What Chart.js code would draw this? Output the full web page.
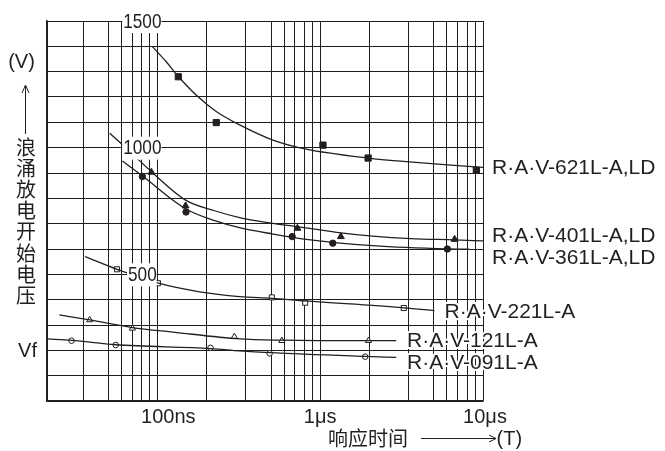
<!DOCTYPE html>
<html><head><meta charset="utf-8">
<script src="https://cdn.jsdelivr.net/npm/chart.js@4.4.1/dist/chart.umd.min.js"></script>
<style>html,body{margin:0;padding:0;background:#fff;}#wrap{width:665px;height:451px;}</style>
</head><body><div id="wrap"><canvas id="c" width="665" height="451"></canvas></div>
<script>
// ---- data (time in ns, voltage in V) ----
const xGridTicks = [21, 35, 50, 60, 70, 80, 90, 100, 200, 350, 500, 600, 700, 800, 900, 1000, 2000, 3500, 5000, 6000, 7000, 8000, 9000, 10000];
const xLabelValues = [100, 1000, 10000];
const xLabelTexts = ['100ns', '1μs', '10μs'];
const yLabelValues = [500, 1000, 1500];

const seriesNames = ['R·A·V-621L-A,LD', 'R·A·V-401L-A,LD', 'R·A·V-361L-A,LD', 'R·A·V-221L-A', 'R·A·V-121L-A', 'R·A·V-091L-A'];

const c621T = [93, 113, 135, 175, 230, 320, 513, 821, 1970, 3370, 10000];
const c621V = [1400, 1340, 1280, 1205, 1143, 1090, 1030, 994, 959, 945, 922];
const p621T = [134.5, 230, 1040, 1970, 9100];
const p621V = [1280, 1099, 1010, 959, 911];

const c401T = [51, 64.5, 92, 150, 225, 320, 513, 725, 1260, 2100, 3600, 6700, 10000];
const c401V = [1057, 998, 905, 792, 751, 724, 701, 688, 666, 651, 641, 636, 632];
const p401T = [91.9, 149, 725, 1340, 6690];
const p401V = [903, 770, 682, 649, 638];

const c361T = [61, 81, 150, 225, 320, 513, 821, 2100, 6040, 8250];
const c361V = [947, 888, 758, 712, 684, 659, 638, 613, 600, 599];
const p361T = [80.9, 150, 673, 1195, 6040];
const p361V = [886, 746, 649, 623, 600];

const c221T = [36, 56.5, 100, 182, 320, 505, 809, 3260, 5030];
const c221V = [570, 520, 466, 431, 412, 405, 395, 368, 357];
const p221T = [56.5, 100.8, 505, 809, 3260];
const p221V = [520, 465, 409, 388, 367];

const c121T = [25, 38.4, 70, 125, 320, 582, 1980, 2930];
const c121V = [340, 320, 290, 272, 245, 240, 238, 238];
const p121T = [38.4, 70.3, 297, 582, 1980];
const p121V = [320, 287, 254, 238, 238];

const c091T = [21, 29.7, 55.5, 212, 320, 489, 1890, 2930];
const c091V = [245, 239, 222, 207, 198, 191, 176, 172];
const p091T = [29.7, 55.5, 212, 489, 1890];
const p091V = [238, 221, 210, 188, 175];

// ---- build ----
const INK = '#231f20';
const zip = (t, v) => t.map((x, i) => ({x: x, y: v[i]}));
function curve(t, v) {
  return {type: 'line', data: zip(t, v), borderColor: INK, borderWidth: 1.3, pointRadius: 0,
    fill: false, cubicInterpolationMode: 'monotone'};
}
function marks(t, v, style, r, filled) {
  return {type: 'scatter', data: zip(t, v), showLine: false, pointStyle: style, pointRadius: r,
    pointBorderColor: INK, pointBorderWidth: 1, pointBackgroundColor: filled ? INK : '#fff'};
}

const datasets = [
  curve(c621T, c621V), marks(p621T, p621V, 'rect', 4.4, true),
  curve(c401T, c401V), marks(p401T, p401V, 'triangle', 4, true),
  curve(c361T, c361V), marks(p361T, p361V, 'circle', 3.2, true),
  curve(c221T, c221V), marks(p221T, p221V, 'rect', 3.6, false),
  curve(c121T, c121V), marks(p121T, p121V, 'triangle', 3.6, false),
  curve(c091T, c091V), marks(p091T, p091V, 'circle', 2.8, false)
];

const labelPos = [
  [492, 174.3], [492, 241.7], [492, 264.3],
  [444.5, 318.3], [407, 346.7], [407, 369]
];

const textPlugin = {
  id: 'texts',
  afterDatasetsDraw(chart) {
    const ctx = chart.ctx, xs = chart.scales.x, ys = chart.scales.y;
    ctx.save();
    ctx.font = '21px "Liberation Sans", Arial, sans-serif';
    ctx.textBaseline = 'middle';
    ctx.textAlign = 'center';
    yLabelValues.forEach(v => {
      const s = String(v);
      const cx = xs.getPixelForValue(100) - 15, cy = ys.getPixelForValue(v);
      const w = ctx.measureText(s).width * 0.82;
      ctx.fillStyle = '#fff';
      ctx.fillRect(cx - w / 2 - 1, cy - 11, w + 1, 23);
      ctx.save();
      ctx.translate(cx, cy + 1);
      ctx.scale(0.82, 1);
      ctx.fillStyle = INK;
      ctx.fillText(s, 0, 0);
      ctx.restore();
    });
    ctx.textBaseline = 'alphabetic';
    ctx.textAlign = 'left';
    seriesNames.forEach((s, i) => {
      const [x, y] = labelPos[i];
      ctx.lineJoin = 'round';
      ctx.strokeStyle = '#fff';
      ctx.lineWidth = 4;
      ctx.strokeText(s, x, y);
      ctx.fillStyle = INK;
      ctx.fillText(s, x, y);
    });
    ctx.restore();
  },
  afterDraw(chart) {
    const ctx = chart.ctx, xs = chart.scales.x;
    ctx.save();
    ctx.fillStyle = INK;
    ctx.strokeStyle = INK;
    ctx.font = '20px "Liberation Sans", Arial, sans-serif';
    ctx.textAlign = 'center';
    ctx.textBaseline = 'alphabetic';
    const offs = [11, 0, 2];
    xLabelValues.forEach((v, i) => {
      ctx.fillText(xLabelTexts[i], xs.getPixelForValue(v) + offs[i], 422.5);
    });
    ctx.textBaseline = 'middle';
    ctx.textAlign = 'left';
    ctx.font = '20px "Noto Sans CJK SC", sans-serif';
    ctx.fillText('响应时间', 328, 438);
    ctx.font = '20px "Liberation Sans", Arial, sans-serif';
    ctx.fillText('(T)', 496.5, 439);
    ctx.lineWidth = 1;
    ctx.beginPath();
    ctx.moveTo(421, 438.5); ctx.lineTo(496, 438.5);
    ctx.moveTo(489, 435); ctx.lineTo(496, 438.5); ctx.lineTo(489, 442);
    ctx.stroke();
    ctx.textAlign = 'center';
    ctx.font = '20px "Liberation Sans", Arial, sans-serif';
    ctx.fillText('(V)', 21.5, 62);
    ctx.fillText('Vf', 27.5, 351);
    ctx.beginPath();
    ctx.moveTo(25.5, 134); ctx.lineTo(25.5, 85);
    ctx.moveTo(22, 93); ctx.lineTo(25.5, 85); ctx.lineTo(29, 93);
    ctx.stroke();
    ctx.font = '20px "Noto Sans CJK SC", sans-serif';
    '浪涌放电开始电压'.split('').forEach((ch, i) => ctx.fillText(ch, 26, 147 + i * 21.2));
    ctx.restore();
  }
};

new Chart(document.getElementById('c'), {
  data: {datasets: datasets},
  options: {
    responsive: false, animation: false, devicePixelRatio: 1,
    layout: {padding: {left: 47, right: 182, top: 21, bottom: 50}},
    plugins: {legend: {display: false}, tooltip: {enabled: false}},
    scales: {
      x: {
        type: 'logarithmic', min: 21, max: 10000,
        afterBuildTicks: s => { s.ticks = xGridTicks.map(v => ({value: v})); },
        ticks: {display: false},
        grid: {color: '#1e1e1e', lineWidth: 1, drawTicks: false},
        border: {display: true, color: INK, width: 1.5}
      },
      y: {
        type: 'linear', min: 0, max: 1500,
        ticks: {display: false, stepSize: 100},
        grid: {color: '#1e1e1e', lineWidth: 1, drawTicks: false},
        border: {display: true, color: INK, width: 1.5}
      }
    }
  },
  plugins: [textPlugin]
});
</script></body></html>
